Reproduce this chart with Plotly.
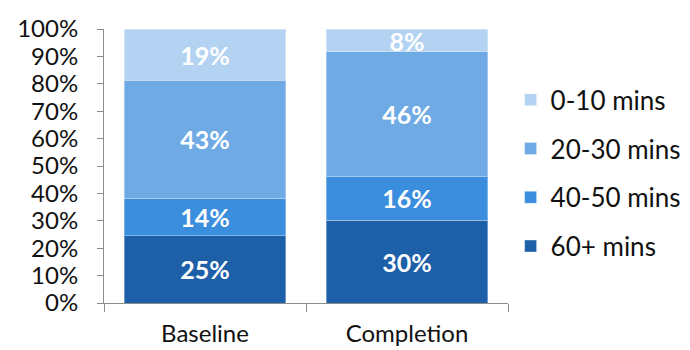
import plotly.graph_objects as go

categories = ["Baseline", "Completion"]
series_names = ["60+ mins", "40-50 mins", "20-30 mins", "0-10 mins"]
mins_60_plus = [24.6, 30.2]
mins_40_50 = [13.6, 15.9]
mins_20_30 = [43.1, 45.6]
mins_0_10 = [18.6, 8.2]
series_values = [mins_60_plus, mins_40_50, mins_20_30, mins_0_10]
colors = ["#1e60a8", "#3b8ddd", "#6faae4", "#b4d3f2"]
y_ticks = list(range(0, 101, 10))

FONT = "Lato"
AXIS_GRAY = "#8c8c8c"
TEXT = "#111111"

fig = go.Figure()
for i, (name, vals, col) in enumerate(zip(series_names, series_values, colors)):
    fig.add_trace(go.Bar(
        x=categories, y=vals, name=name, legendgroup=name,
        legendrank=len(series_names) - i,
        marker=dict(color=col, line=dict(color="rgba(255,255,255,0.35)", width=1)),
        texttemplate="%{y:.0f}%", textposition="inside", insidetextanchor="middle",
        textfont=dict(family=FONT, size=25, color="white", weight="bold"),
        textangle=0, constraintext="none",
    ))

fig.update_layout(
    width=690, height=350,
    margin=dict(l=104, r=182, t=29, b=47),
    barmode="stack", bargap=0.2,
    plot_bgcolor="white", paper_bgcolor="white",
    font=dict(family=FONT, size=24, color=TEXT),
    legend=dict(
        traceorder="grouped", tracegroupgap=12,
        xref="container", yref="container",
        x=0.74, y=0.505, xanchor="left", yanchor="middle",
        font=dict(family=FONT, size=26, color=TEXT),
        itemwidth=30, bgcolor="rgba(0,0,0,0)", maxheight=340,
    ),
    xaxis=dict(
        showline=True, linecolor=AXIS_GRAY, linewidth=1,
        ticks="outside", tickson="boundaries", ticklen=8, tickcolor=AXIS_GRAY,
        tickfont=dict(family=FONT, size=24, color=TEXT),
        ticklabelstandoff=9, showgrid=False, automargin=False,
    ),
    yaxis=dict(
        range=[0, 100], tickvals=y_ticks, ticktext=[f"{v}%" for v in y_ticks],
        showline=True, linecolor=AXIS_GRAY, linewidth=1,
        ticks="outside", ticklen=6, tickcolor=AXIS_GRAY,
        tickfont=dict(family=FONT, size=24, color=TEXT),
        ticklabelstandoff=14, showgrid=False, zeroline=False, automargin=False,
    ),
)

fig.write_html("out.html")
